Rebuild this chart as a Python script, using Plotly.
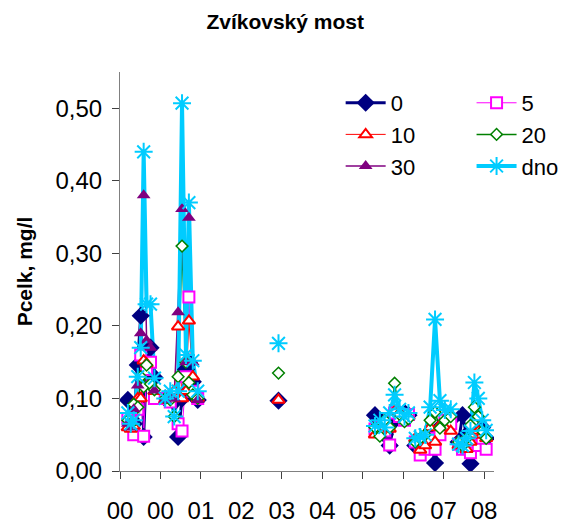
import plotly.graph_objects as go

# sampling dates, grouped in campaigns (a gap in the lines between campaigns)
dates = [
    # 2000
    '2000-03-05', '2000-03-29', '2000-04-22', '2000-05-25', '2000-06-18',
    '2000-07-12', '2000-08-05', '2000-09-06', '2000-10-08',
    # 2001
    '2001-01-04', '2001-02-14', '2001-03-18', '2001-04-19', '2001-05-21',
    '2001-06-22', '2001-07-16', '2001-08-17', '2001-09-26',
    # 2003
    '2003-07-17',
    # 2005-2006
    '2005-09-11', '2005-10-21', '2005-11-30', '2006-01-09', '2006-02-18',
    '2006-03-31', '2006-05-10', '2006-06-11',
    # 2006-2007
    '2006-08-06', '2006-09-15', '2006-10-25', '2006-12-05', '2007-01-14',
    '2007-02-23', '2007-04-04', '2007-05-22',
    # 2007-2008
    '2007-07-25', '2007-08-26', '2007-09-28', '2007-10-30', '2007-12-01',
    '2008-01-02', '2008-02-03', '2008-03-06',
]
campaign_sizes = [9, 9, 1, 8, 8, 8]

# Pcelk (mg/l) by depth
p_0 = [0.098, 0.072, 0.065, 0.146, 0.214, 0.047, 0.150, 0.170, 0.129,
       0.100, 0.100, 0.095, 0.047, 0.100, 0.140, 0.150, 0.123, 0.098,
       0.097,
       0.077, 0.060, 0.050, 0.035, 0.070, 0.077, 0.080, 0.077,
       0.035, 0.040, 0.045, 0.050, 0.011, 0.060, 0.063, 0.070,
       0.040, 0.077, 0.050, 0.010, 0.040, 0.050, 0.060, 0.045]
p_5 = [0.072, 0.068, 0.050, 0.085, 0.160, 0.048, 0.140, 0.150, 0.100,
       0.100, 0.095, 0.105, 0.065, 0.055, 0.130, 0.240, 0.110, 0.100,
       None,
       0.058, 0.060, 0.055, 0.036, 0.080, 0.075, 0.070, 0.078,
       0.040, 0.022, 0.030, 0.045, 0.030, 0.050, 0.070, 0.065,
       0.037, 0.030, 0.032, 0.025, 0.040, 0.035, 0.045, 0.030]
p_10 = [0.060, 0.058, 0.062, 0.100, 0.100, 0.152, 0.148, 0.120, 0.110,
        0.098, 0.100, 0.110, 0.199, 0.100, 0.110, 0.207, 0.130, 0.100,
        0.098,
        0.050, 0.055, 0.060, 0.058, 0.082, 0.080, 0.070, 0.075,
        0.045, 0.029, 0.035, 0.060, 0.040, 0.063, 0.060, 0.055,
        0.035, 0.040, 0.030, 0.040, 0.050, 0.055, 0.050, 0.045]
p_20 = [0.070, 0.065, 0.092, 0.088, 0.130, 0.116, 0.146, 0.120, 0.112,
        0.100, 0.098, 0.075, 0.130, 0.310, 0.150, 0.122, 0.105, 0.100,
        0.135,
        0.060, 0.048, 0.070, 0.060, 0.121, 0.078, 0.068, 0.072,
        0.040, 0.045, 0.050, 0.070, 0.081, 0.059, 0.070, 0.075,
        0.040, 0.035, 0.045, 0.063, 0.088, 0.075, 0.055, 0.045]
p_30 = [0.065, 0.060, 0.085, 0.118, 0.190, 0.380, 0.180, 0.170, 0.111,
        0.098, 0.100, 0.100, 0.219, 0.361, 0.150, 0.349, 0.150, 0.098,
        None,
        None, None, None, None, None, None, None, None,
        None, None, None, None, None, None, None, None,
        None, None, None, None, None, None, None, None]
p_dno = [0.080, 0.065, 0.070, 0.130, 0.170, 0.440, 0.230, 0.230, 0.128,
         0.100, 0.110, 0.075, 0.110, 0.507, 0.160, 0.370, 0.152, 0.110,
         0.176,
         0.062, 0.070, 0.060, 0.080, 0.105, 0.085, 0.075, 0.080,
         0.045, 0.047, 0.050, 0.088, 0.209, 0.097, 0.084, 0.085,
         0.037, 0.035, 0.045, 0.055, 0.122, 0.100, 0.070, 0.056]

tick_dates = ['2000-01-01', '2000-11-26', '2001-10-22', '2002-09-17', '2003-08-13',
              '2004-07-08', '2005-06-03', '2006-04-29', '2007-03-25', '2008-02-18']
tick_labels = ['00', '00', '01', '02', '03', '04', '05', '06', '07', '08']

series = [
    # name, values, colour, line width, symbol, fill, marker size, marker line width, legend
    ('0', p_0, '#000080', 3, 'diamond', '#000080', 14, 0, 'legend'),
    ('5', p_5, '#FF00FF', 1, 'square', 'white', 11, 2, 'legend2'),
    ('10', p_10, '#FF0000', 1, 'triangle-up', 'white', 11, 2, 'legend'),
    ('20', p_20, '#008000', 1.5, 'diamond', 'white', 9, 1.5, 'legend2'),
    ('30', p_30, '#800080', 1.5, 'triangle-up', '#800080', 12, 0, 'legend'),
    ('dno', p_dno, '#00CCFF', 4, 'asterisk', '#00CCFF', 15, 2, 'legend2'),
]


def with_gaps(values):
    out, i = [], 0
    for n in campaign_sizes:
        out += values[i:i + n] + [None]
        i += n
    return out[:-1]


x = with_gaps(dates)

fig = go.Figure()

# lines first (Excel draws all lines under all markers)
for name, vals, col, lw, sym, fill, size, mlw, leg in series:
    fig.add_trace(go.Scatter(x=x, y=with_gaps(vals), mode='lines',
                             line=dict(color=col, width=lw),
                             connectgaps=False, showlegend=False, hoverinfo='skip'))

for name, vals, col, lw, sym, fill, size, mlw, leg in series:
    fig.add_trace(go.Scatter(x=x, y=with_gaps(vals), mode='markers', name=name,
                             marker=dict(symbol=sym, size=size, color=fill,
                                         line=dict(color=col, width=mlw)),
                             showlegend=False))

# legend entries
for name, vals, col, lw, sym, fill, size, mlw, leg in series:
    fig.add_trace(go.Scatter(x=[None], y=[None], mode='lines+markers', name=name,
                             line=dict(color=col, width=lw),
                             marker=dict(symbol=sym, size=size, color=fill,
                                         line=dict(color=col, width=mlw)),
                             legend=leg))

font = 'Liberation Sans, Arial, sans-serif'
legend_style = dict(font=dict(size=22, color='black', family=font),
                    bgcolor='rgba(0,0,0,0)', yanchor='top', xanchor='left',
                    traceorder='normal', itemwidth=40)

fig.update_layout(
    width=568, height=524,
    margin=dict(l=112, r=76, t=64, b=61),
    paper_bgcolor='white', plot_bgcolor='white',
    separators=', ',
    font=dict(family=font, size=24, color='black'),
    title=dict(text='<b>Zvíkovský most</b>', x=0.488, xanchor='center',
               y=0.973, yanchor='middle', font=dict(size=21)),
    legend=dict(x=0.59, y=0.975, **legend_style),
    legend2=dict(x=0.94, y=0.975, **legend_style),
    showlegend=True,
)

fig.update_xaxes(
    type='date', range=['2000-01-01', '2008-05-09'],
    tickvals=tick_dates, ticktext=tick_labels,
    showline=True, linecolor='#808080', linewidth=1,
    ticks='outside', ticklen=7, tickcolor='#404040',
    showgrid=False, zeroline=False, ticklabelstandoff=11,
    tickfont=dict(size=24), automargin=False,
)
fig.update_yaxes(
    range=[0, 0.55], tickvals=[0, 0.1, 0.2, 0.3, 0.4, 0.5], tickformat='.2f',
    showline=True, linecolor='#808080', linewidth=1,
    ticks='outside', ticklen=7, tickcolor='#404040',
    showgrid=False, zeroline=False, ticklabelstandoff=5,
    tickfont=dict(size=24), automargin=False,
    title=dict(text='<b>Pcelk, mg/l</b>', font=dict(size=21), standoff=17),
)

fig.write_html("out.html")
